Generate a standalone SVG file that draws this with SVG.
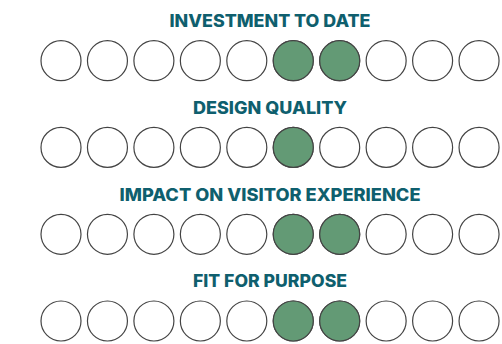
<svg xmlns="http://www.w3.org/2000/svg" width="502" height="344" viewBox="0 0 502 344">
<style>
.t{font-family:Inter,Roboto,"Liberation Sans",Arial,sans-serif;font-weight:800;font-size:17px;fill:#0f5f6e;text-anchor:middle}
.c{fill:#ffffff;stroke:#444444;stroke-width:1.2}
.f{fill:#639a75;stroke:#444444;stroke-width:1.2}
</style>
<defs>
<g id="row">
<circle class="c" cx="61" cy="0" r="20"/>
<circle class="c" cx="107.45" cy="0" r="20"/>
<circle class="c" cx="153.9" cy="0" r="20"/>
<circle class="c" cx="200.35" cy="0" r="20"/>
<circle class="c" cx="246.8" cy="0" r="20"/>
<circle class="c" cx="293.25" cy="0" r="20"/>
<circle class="c" cx="339.7" cy="0" r="20"/>
<circle class="c" cx="386.15" cy="0" r="20"/>
<circle class="c" cx="432.6" cy="0" r="20"/>
<circle class="c" cx="479.05" cy="0" r="20"/>
</g>
</defs>
<g id="investment">
<text class="t" x="270" y="27.3" textLength="201" lengthAdjust="spacingAndGlyphs">INVESTMENT TO DATE</text>
<use href="#row" y="60.7"/>
<circle class="f" cx="293.25" cy="60.7" r="20"/>
<circle class="f" cx="339.7" cy="60.7" r="20"/>
</g>
<g id="design">
<text class="t" x="270" y="113.8" textLength="154" lengthAdjust="spacingAndGlyphs">DESIGN QUALITY</text>
<use href="#row" y="147.4"/>
<circle class="f" cx="293.25" cy="147.4" r="20"/>
</g>
<g id="impact">
<text class="t" x="270" y="201" textLength="301" lengthAdjust="spacingAndGlyphs">IMPACT ON VISITOR EXPERIENCE</text>
<use href="#row" y="234.3"/>
<circle class="f" cx="293.25" cy="234.3" r="20"/>
<circle class="f" cx="339.7" cy="234.3" r="20"/>
</g>
<g id="fit">
<text class="t" x="270" y="287.4" textLength="154" lengthAdjust="spacingAndGlyphs">FIT FOR PURPOSE</text>
<use href="#row" y="321"/>
<circle class="f" cx="293.25" cy="321" r="20"/>
<circle class="f" cx="339.7" cy="321" r="20"/>
</g>
</svg>
